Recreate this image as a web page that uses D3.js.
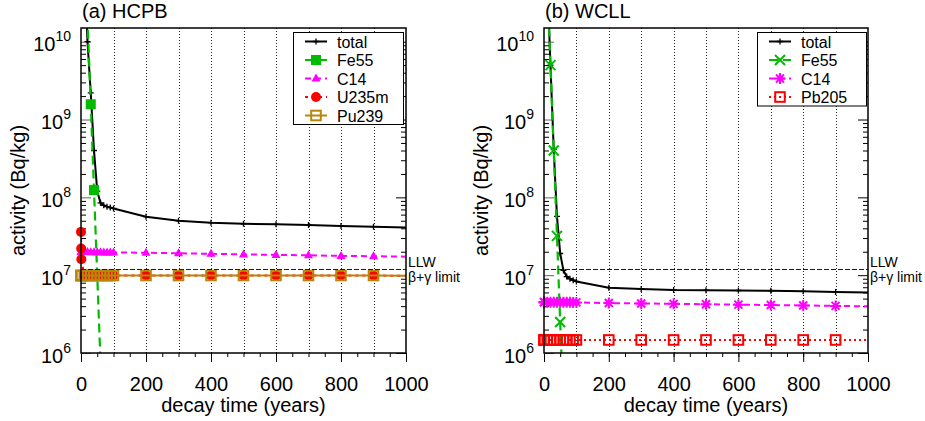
<!DOCTYPE html>
<html>
<head>
<meta charset="utf-8">
<script src="https://cdn.jsdelivr.net/npm/d3@7"></script>
<style>
  body { margin: 0; background: #fff; }
  svg { display: block; font-family: "Liberation Sans", Arial, Helvetica, sans-serif; }
</style>
</head>
<body>
<svg id="chart" width="925" height="421"></svg>
<script>
// Decay times after shutdown (years)
const years = [0, 0.5, 1, 10, 20, 30, 40, 50, 60, 70, 80, 90, 100, 200, 300, 400, 500, 600, 700, 800, 900, 1000];

// HCPB specific activities (Bq/kg); null = far below the plotted range
const hcpbTotal = [3.2e12, 2.8e12, 2.5e12, 1.2e11, 1.0e10, 2.2e9, 4.0e8, 1.2e8, 8.5e7, 7.9e7, 7.6e7, 7.4e7, 7.2e7, 5.65e7, 5.0e7, 4.73e7, 4.58e7, 4.5e7, 4.42e7, 4.3e7, 4.2e7, 4.1e7];
const hcpbFe55 = [3.1e12, 2.75e12, 2.4e12, 2.5e11, 2.0e10, 1.57e9, 1.24e8, 9.8e6, 7.8e5, 6.2e4, null, null, null, null, null, null, null, null, null, null, null, null];
const hcpbC14 = [1.98e7, 1.98e7, 1.98e7, 1.98e7, 1.98e7, 1.97e7, 1.97e7, 1.97e7, 1.97e7, 1.96e7, 1.96e7, 1.96e7, 1.96e7, 1.94e7, 1.91e7, 1.88e7, 1.85e7, 1.82e7, 1.80e7, 1.77e7, 1.75e7, 1.73e7];
const hcpbU235m = [3.6e7, 2.2e7, 1.6e7, 9.9e6, 9.9e6, 9.9e6, 9.9e6, 9.9e6, 9.9e6, 9.9e6, 9.9e6, 9.9e6, 9.9e6, 9.9e6, 9.9e6, 9.9e6, 9.9e6, 9.9e6, 9.9e6, 9.9e6, 9.9e6, 9.8e6];
const hcpbPu239 = [9.9e6, 9.9e6, 9.9e6, 9.9e6, 9.9e6, 9.9e6, 9.9e6, 9.9e6, 9.9e6, 9.9e6, 9.9e6, 9.9e6, 9.9e6, 9.9e6, 9.9e6, 9.9e6, 9.9e6, 9.9e6, 9.9e6, 9.9e6, 9.9e6, 9.8e6];

// WCLL specific activities (Bq/kg)
const wcllTotal = [5.0e12, 4.4e12, 3.9e12, 6.3e10, 5.0e9, 4.1e8, 5.7e7, 1.9e7, 1.15e7, 9.6e6, 9.0e6, 8.6e6, 8.3e6, 6.9e6, 6.65e6, 6.45e6, 6.4e6, 6.35e6, 6.3e6, 6.2e6, 6.08e6, 6.0e6];
const wcllFe55 = [5.0e12, 4.4e12, 3.9e12, 6.3e10, 5.0e9, 4.0e8, 3.2e7, 2.5e6, 2.0e5, null, null, null, null, null, null, null, null, null, null, null, null, null];
const wcllC14 = [4.5e6, 4.5e6, 4.5e6, 4.5e6, 4.5e6, 4.49e6, 4.49e6, 4.49e6, 4.48e6, 4.48e6, 4.48e6, 4.47e6, 4.47e6, 4.38e6, 4.33e6, 4.28e6, 4.23e6, 4.18e6, 4.13e6, 4.08e6, 4.03e6, 3.98e6];
const wcllPb205 = [1.47e6, 1.47e6, 1.47e6, 1.47e6, 1.47e6, 1.47e6, 1.47e6, 1.47e6, 1.47e6, 1.47e6, 1.47e6, 1.47e6, 1.47e6, 1.47e6, 1.47e6, 1.47e6, 1.47e6, 1.47e6, 1.47e6, 1.47e6, 1.47e6, 1.47e6];

// Low-level waste beta+gamma limit (Bq/kg)
const llwLimit = 1.2e7;

// Axis ticks
const xMajorTicks = [0, 200, 400, 600, 800, 1000];
const xMinorTicks = d3.range(0, 1001, 50);
const xGridLines = [100, 200, 300, 400, 500, 600, 700, 800, 900];
const yDecades = [6, 7, 8, 9, 10];
const yDomain = [1e6, 1.5e10];

const GREEN = "#00bb00", MAGENTA = "#ff00ff", RED = "#ff0000", BROWN = "#b8860b", BLUE = "#0000ee";

const panels = [
  {
    id: "hcpb", title: "(a) HCPB", left: 81, right: 406, top: 28, bottom: 353,
    legend: { x: 293, y: 32, w: 110, h: 92 },
    series: [
      { name: "total", values: hcpbTotal, color: "#000", dash: null, width: 2, marker: "plus" },
      { name: "Fe55", values: hcpbFe55, color: GREEN, dash: "9,5", width: 2.2, marker: "sqFill" },
      { name: "C14", values: hcpbC14, color: MAGENTA, dash: "6,4", width: 2, marker: "tri" },
      { name: "U235m", values: hcpbU235m, color: RED, dash: "3,4", width: 2, marker: "circle" },
      { name: "Pu239", values: hcpbPu239, color: BROWN, dash: null, width: 2, marker: "sqOpen" }
    ]
  },
  {
    id: "wcll", title: "(b) WCLL", left: 544, right: 868, top: 28, bottom: 353,
    legend: { x: 757, y: 32, w: 109, h: 73.5 },
    series: [
      { name: "total", values: wcllTotal, color: "#000", dash: null, width: 2, marker: "plus" },
      { name: "Fe55", values: wcllFe55, color: GREEN, dash: "9,5", width: 2.2, marker: "cross" },
      { name: "C14", values: wcllC14, color: MAGENTA, dash: "6,4", width: 2, marker: "star" },
      { name: "Pb205", values: wcllPb205, color: RED, dash: "2,3", width: 2, marker: "sqOpen" }
    ]
  }
];

const svg = d3.select("#chart");

function drawMarker(g, type, color, cx, cy) {
  switch (type) {
    case "plus":
      g.append("path").attr("d", `M${cx - 3},${cy}H${cx + 3}M${cx},${cy - 3}V${cy + 3}`)
        .attr("stroke", color).attr("stroke-width", 1.3).attr("fill", "none");
      break;
    case "sqFill":
      g.append("rect").attr("x", cx - 5).attr("y", cy - 5).attr("width", 10).attr("height", 10).attr("fill", color);
      break;
    case "tri":
      g.append("path").attr("d", `M${cx},${cy - 5}L${cx + 4.5},${cy + 3}L${cx - 4.5},${cy + 3}Z`).attr("fill", color);
      break;
    case "circle":
      g.append("circle").attr("cx", cx).attr("cy", cy).attr("r", 5).attr("fill", color);
      break;
    case "sqOpen":
      g.append("rect").attr("x", cx - 4.8).attr("y", cy - 4.8).attr("width", 9.6).attr("height", 9.6)
        .attr("fill", "none").attr("stroke", color).attr("stroke-width", 2);
      break;
    case "cross":
      g.append("path").attr("d", `M${cx - 5},${cy - 5}L${cx + 5},${cy + 5}M${cx - 5},${cy + 5}L${cx + 5},${cy - 5}`)
        .attr("stroke", color).attr("stroke-width", 2).attr("fill", "none");
      break;
    case "star":
      g.append("path").attr("d", `M${cx - 4},${cy - 4}L${cx + 4},${cy + 4}M${cx - 4},${cy + 4}L${cx + 4},${cy - 4}M${cx - 5.5},${cy}H${cx + 5.5}M${cx},${cy - 5.5}V${cy + 5.5}`)
        .attr("stroke", color).attr("stroke-width", 2).attr("fill", "none");
      break;
  }
}

panels.forEach(p => {
  const x = d3.scaleLinear().domain([0, 1000]).range([p.left, p.right]);
  const y = d3.scaleLog().domain(yDomain).range([p.bottom, p.top]);
  const g = svg.append("g");

  svg.append("clipPath").attr("id", "clip-" + p.id)
    .append("rect").attr("x", p.left).attr("y", p.top)
    .attr("width", p.right - p.left).attr("height", p.bottom - p.top);

  // vertical dotted grid
  g.append("g").selectAll("line").data(xGridLines).join("line")
    .attr("x1", d => Math.round(x(d)) + 0.5).attr("x2", d => Math.round(x(d)) + 0.5)
    .attr("y1", p.top).attr("y2", p.bottom)
    .attr("stroke", "#222").attr("stroke-width", 1).attr("stroke-dasharray", "1,2");

  // x axis: minor ticks, then labelled major ticks
  const xMinor = g.append("g").attr("transform", `translate(0,${p.bottom})`)
    .call(d3.axisBottom(x).tickValues(xMinorTicks).tickSize(4).tickFormat(""));
  const xMajor = g.append("g").attr("transform", `translate(0,${p.bottom})`)
    .call(d3.axisBottom(x).tickValues(xMajorTicks).tickSize(9).tickPadding(15).tickFormat(d3.format("d")));
  [xMinor, xMajor].forEach(a => a.select(".domain").remove());
  xMajor.selectAll("text").attr("font-size", 20).attr("font-family", null).attr("fill", "#000");
  xMajor.selectAll("line").attr("stroke", "#000");
  xMinor.selectAll("line").attr("stroke", "#000");

  // y axes: ticks pointing inward on both sides
  const yMinorVals = [];
  yDecades.forEach(e => { for (let m = 2; m <= 9; m++) { const v = m * Math.pow(10, e); if (v <= yDomain[1]) yMinorVals.push(v); } });
  const yMajorVals = yDecades.map(e => Math.pow(10, e));

  const yl1 = g.append("g").attr("transform", `translate(${p.left},0)`)
    .call(d3.axisLeft(y).tickValues(yMinorVals).tickSize(-5).tickFormat(""));
  const yl2 = g.append("g").attr("transform", `translate(${p.left},0)`)
    .call(d3.axisLeft(y).tickValues(yMajorVals).tickSize(-10).tickPadding(10).tickFormat(""));
  const yr1 = g.append("g").attr("transform", `translate(${p.right},0)`)
    .call(d3.axisRight(y).tickValues(yMinorVals).tickSize(-5).tickFormat(""));
  const yr2 = g.append("g").attr("transform", `translate(${p.right},0)`)
    .call(d3.axisRight(y).tickValues(yMajorVals).tickSize(-10).tickFormat(""));
  [yl1, yl2, yr1, yr2].forEach(a => { a.select(".domain").remove(); a.selectAll("line").attr("stroke", "#000"); });
  yl2.selectAll("line").attr("stroke", "#666");

  // decade labels 10^n
  yl2.selectAll(".tick").each(function (d) {
    const t = d3.select(this).select("text")
      .attr("x", -10).attr("dy", null).attr("y", 9)
      .attr("font-size", 20).attr("font-family", null).attr("fill", "#000")
      .attr("text-anchor", "end").text(null);
    t.append("tspan").text("10");
    t.append("tspan").attr("font-size", 14).attr("dy", -10).text(Math.round(Math.log10(d)));
  });

  // series lines (clipped) and markers (drawn where in range)
  const line = d3.line()
    .defined(d => d.v != null)
    .x(d => x(d.t)).y(d => y(d.v));
  p.series.forEach(s => {
    const pts = years.map((t, i) => ({ t, v: s.values[i] }));
    g.append("path").datum(pts)
      .attr("clip-path", `url(#clip-${p.id})`)
      .attr("d", line).attr("fill", "none")
      .attr("stroke", s.color).attr("stroke-width", s.width)
      .attr("stroke-dasharray", s.dash);
    const mg = g.append("g");
    pts.filter(d => d.v != null && d.v >= yDomain[0] && d.v <= yDomain[1] && d.t < 1000)
      .forEach(d => drawMarker(mg, s.marker, s.color, x(d.t), y(d.v)));
  });

  // LLW limit line
  const yl = Math.round(y(llwLimit)) + 0.5;
  g.append("line")
    .attr("x1", p.left).attr("x2", p.right)
    .attr("y1", yl).attr("y2", yl)
    .attr("stroke", BLUE).attr("stroke-width", 1).attr("stroke-dasharray", "5,2");
  g.append("text").attr("x", p.right + 2).attr("y", yl - 3)
    .attr("font-size", 14).text("LLW");
  g.append("text").attr("x", p.right + 2).attr("y", yl + 12)
    .attr("font-size", 14).text("β+γ limit");

  // frame
  g.append("rect").attr("x", p.left).attr("y", p.top)
    .attr("width", p.right - p.left).attr("height", p.bottom - p.top)
    .attr("fill", "none").attr("stroke", "#000").attr("stroke-width", 1.5);

  // legend
  const L = p.legend;
  const lg = g.append("g");
  lg.append("rect").attr("x", L.x + 0.5).attr("y", L.y + 0.5).attr("width", L.w).attr("height", L.h)
    .attr("fill", "#fff").attr("stroke", "#000").attr("stroke-width", 1);
  p.series.forEach((s, i) => {
    const cy = L.y + 9.5 + i * 18.5;
    lg.append("line").attr("x1", L.x + 12).attr("x2", L.x + 34).attr("y1", cy).attr("y2", cy)
      .attr("stroke", s.color).attr("stroke-width", s.width).attr("stroke-dasharray", s.dash);
    drawMarker(lg, s.marker, s.color, L.x + 23, cy);
    lg.append("text").attr("x", L.x + 44).attr("y", cy + 6).attr("font-size", 16).text(s.name);
  });

  // titles
  g.append("text").attr("x", p.left + 1).attr("y", 18).attr("font-size", 20).text(p.title);
  g.append("text").attr("x", (p.left + p.right) / 2).attr("y", 412)
    .attr("text-anchor", "middle").attr("font-size", 20).text("decay time (years)");
  g.append("text").attr("transform", `translate(${p.left - 56},${(p.top + p.bottom) / 2}) rotate(-90)`)
    .attr("text-anchor", "middle").attr("font-size", 20).text("activity (Bq/kg)");
});
</script>
</body>
</html>
